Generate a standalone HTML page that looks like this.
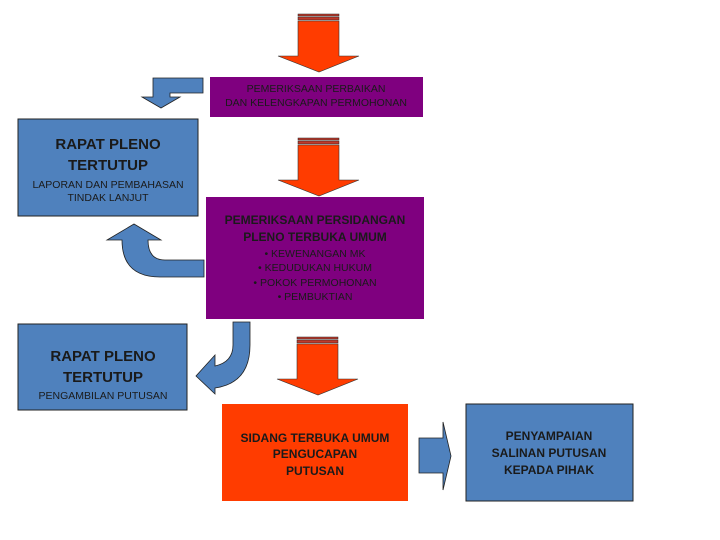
<!DOCTYPE html>
<html><head><meta charset="utf-8"><style>
html,body{margin:0;padding:0;background:#fff;}
svg{display:block}
text{font-family:"Liberation Sans",sans-serif;fill:#1a1a1a;text-anchor:middle}
.b{font-weight:bold}
</style></head><body>
<svg width="720" height="540" viewBox="0 0 720 540" xmlns="http://www.w3.org/2000/svg">
<defs>
<g id="oarrow">
<rect x="-21" y="0" width="41" height="2" fill="#c0392b" stroke="#222" stroke-width="0.5"/>
<rect x="-21" y="3" width="41" height="3" fill="#c0392b" stroke="#222" stroke-width="0.5"/>
<path d="M-21 7 H20 V42 H40 L0 58 L-41 42 H-21 Z" fill="#ff3c00" stroke="#333" stroke-width="0.6"/>
</g>
</defs>
<use href="#oarrow" x="319" y="14"/>
<use href="#oarrow" x="319" y="138"/>
<use href="#oarrow" x="318" y="337"/>

<rect x="210" y="77" width="213" height="40" fill="#7f007f"/>
<text font-size="10.5" x="316" y="92">PEMERIKSAAN PERBAIKAN</text>
<text font-size="10.5" x="316" y="106">DAN KELENGKAPAN PERMOHONAN</text>

<rect x="206" y="197" width="218" height="122" fill="#7f007f"/>
<text font-size="12" class="b" x="315" y="224">PEMERIKSAAN PERSIDANGAN</text>
<text font-size="12" class="b" x="315" y="241">PLENO TERBUKA UMUM</text>
<text font-size="10.5" x="315" y="257">• KEWENANGAN MK</text>
<text font-size="10.5" x="315" y="271">• KEDUDUKAN HUKUM</text>
<text font-size="10.5" x="315" y="286">• POKOK PERMOHONAN</text>
<text font-size="10.5" x="315" y="300">• PEMBUKTIAN</text>

<rect x="18" y="119" width="180" height="97" fill="#4f81bd" stroke="#222" stroke-width="1"/>
<text font-size="15" class="b" x="108" y="149">RAPAT PLENO</text>
<text font-size="15" class="b" x="108" y="170">TERTUTUP</text>
<text font-size="10.5" x="108" y="188">LAPORAN DAN PEMBAHASAN</text>
<text font-size="10.5" x="108" y="201">TINDAK LANJUT</text>

<rect x="18" y="324" width="169" height="86" fill="#4f81bd" stroke="#222" stroke-width="1"/>
<text font-size="15" class="b" x="103" y="361">RAPAT PLENO</text>
<text font-size="15" class="b" x="103" y="382">TERTUTUP</text>
<text font-size="10.5" x="103" y="399">PENGAMBILAN PUTUSAN</text>

<rect x="222" y="404" width="186" height="97" fill="#ff3c00"/>
<text font-size="12" class="b" x="315" y="442">SIDANG TERBUKA UMUM</text>
<text font-size="12" class="b" x="315" y="458">PENGUCAPAN</text>
<text font-size="12" class="b" x="315" y="475">PUTUSAN</text>

<rect x="466" y="404" width="167" height="97" fill="#4f81bd" stroke="#222" stroke-width="1"/>
<text font-size="12" class="b" x="549" y="440">PENYAMPAIAN</text>
<text font-size="12" class="b" x="549" y="457">SALINAN PUTUSAN</text>
<text font-size="12" class="b" x="549" y="474">KEPADA PIHAK</text>

<path d="M203 78 V93 H170 V97 H180 L161 108 L142 97 H153 V78 Z" fill="#4f81bd" stroke="#222" stroke-width="0.8"/>
<path d="M204 260 V277 H160 Q122 277 122 240 H107 L134 224 L161 240 H148 Q148 260 165 260 Z" fill="#4f81bd" stroke="#222" stroke-width="0.8"/>
<path d="M233 322 H250 V345 Q250 383 215 388 V394 L196 376 L215 355 V366 Q233 362 233 345 Z" fill="#4f81bd" stroke="#222" stroke-width="0.8"/>
<path d="M419 438 H443 V422 L451 456 L443 490 V473 H419 Z" fill="#4f81bd" stroke="#222" stroke-width="0.8"/>
</svg>
</body></html>
